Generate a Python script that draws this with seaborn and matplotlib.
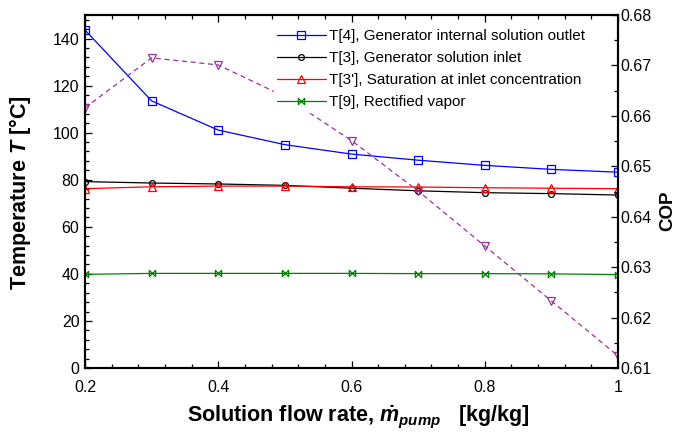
import matplotlib
matplotlib.use("Agg")
import matplotlib.pyplot as plt
from matplotlib.path import Path
from matplotlib.ticker import MultipleLocator, FixedLocator
import seaborn as sns
import pandas as pd

# ---- data ----
flow = [0.2, 0.3, 0.4, 0.5, 0.6, 0.7, 0.8, 0.9, 1.0]
T4 = [143.6, 113.5, 101.1, 94.9, 90.9, 88.3, 86.1, 84.4, 83.2]
T3 = [79.2, 78.6, 78.2, 77.6, 76.4, 75.3, 74.5, 74.1, 73.5]
T3p = [76.2, 77.0, 77.3, 77.3, 77.0, 76.9, 76.6, 76.4, 76.2]
T9 = [39.8, 40.2, 40.2, 40.2, 40.2, 40.1, 40.1, 40.0, 39.7]
COP = [0.6616, 0.6715, 0.6701, 0.6638, 0.6551, 0.6451, 0.6342, 0.6233, 0.6124]

labels = ["T[4], Generator internal solution outlet",
          "T[3], Generator solution inlet",
          "T[3'], Saturation at inlet concentration",
          "T[9], Rectified vapor"]
x_ticks = [0.2, 0.4, 0.6, 0.8, 1.0]
x_ticklabels = ["0.2", "0.4", "0.6", "0.8", "1"]
cop_ticks = [0.61, 0.62, 0.63, 0.64, 0.65, 0.66, 0.67, 0.68]

sns.set_style("ticks")
plt.rcParams["font.family"] = ["Liberation Sans", "DejaVu Sans"]
plt.rcParams["mathtext.fontset"] = "custom"
plt.rcParams["mathtext.it"] = "Liberation Sans:bold:italic"
plt.rcParams["mathtext.rm"] = "Liberation Sans:bold"
plt.rcParams["mathtext.bf"] = "Liberation Sans:bold"
for k in ("text.color", "axes.labelcolor", "xtick.color", "ytick.color"):
    plt.rcParams[k] = "black"

bowtie = Path([(-1, -1), (-1, 1), (1, -1), (1, 1), (-1, -1)],
              [Path.MOVETO, Path.LINETO, Path.LINETO, Path.LINETO, Path.CLOSEPOLY])

W, H = 676, 433
fig = plt.figure(figsize=(W / 100, H / 100), dpi=100)
L, R, T, B = 85, 618, 15, 368
ax = fig.add_axes([L / W, 1 - B / H, (R - L) / W, (B - T) / H])
ax2 = ax.twinx()

df = pd.DataFrame({"x": flow, "T4": T4, "T3": T3, "T3p": T3p, "T9": T9, "COP": COP})

purple = "#993399"
sns.lineplot(data=df, x="x", y="COP", ax=ax2, color=purple, lw=0.9,
             linestyle=(0, (4, 3)), marker="v", markersize=6, mfc="none",
             mec=purple, mew=0.9)

specs = [("T4", "#0000ff", "s", 5.5), ("T3", "black", "o", 4.2),
         ("T3p", "#ff0000", "^", 5.5), ("T9", "#008000", bowtie, 4.5)]
for (col, c, m, ms), lab in zip(specs, labels):
    sns.lineplot(data=df, x="x", y=col, ax=ax, color=c, lw=0.9, marker=m,
                 markersize=ms, mfc="none", mec=c, mew=0.9, label=lab)

ax.get_legend().remove()
h, l = ax.get_legend_handles_labels()
leg = ax2.legend(h, l, loc="upper right",
                 bbox_to_anchor=((588 - L) / (R - L), (B - 26) / (B - T)),
                 frameon=True, fancybox=False, framealpha=1, edgecolor="white",
                 facecolor="white", fontsize=11, handlelength=3.2,
                 handletextpad=0.2, labelspacing=0.52, borderpad=0.2,
                 borderaxespad=0.0)

ax.set_xlim(0.2, 1.0)
ax.set_ylim(0, 150)
ax2.set_ylim(0.61, 0.68)
ax.xaxis.set_major_locator(FixedLocator(x_ticks))
ax.set_xticklabels(x_ticklabels)
ax.xaxis.set_minor_locator(MultipleLocator(0.04))
ax.yaxis.set_major_locator(MultipleLocator(20))
ax.yaxis.set_minor_locator(MultipleLocator(4))
ax2.yaxis.set_major_locator(FixedLocator(cop_ticks))
ax2.set_yticklabels([f"{v:.2f}" for v in cop_ticks])
ax2.yaxis.set_minor_locator(MultipleLocator(0.005))

ax.tick_params(axis="both", which="both", direction="in", labelsize=11.5,
               top=True, right=False, width=0.9)
ax.tick_params(which="major", length=5)
ax.tick_params(which="minor", length=3)
ax.tick_params(axis="x", pad=9)
ax.tick_params(axis="y", pad=4)
ax2.tick_params(axis="y", which="both", direction="in", labelsize=11.5, width=0.9, pad=2)
ax2.tick_params(which="major", length=5)
ax2.tick_params(which="minor", length=3)

for a in (ax, ax2):
    for s in a.spines.values():
        s.set_linewidth(1.5)
        s.set_color("black")

ax.set_xlabel(r"Solution flow rate, $\dot{m}_{pump}$   [kg/kg]",
              fontsize=15.5, fontweight="bold")
ax.xaxis.set_label_coords(0.5 + 7 / (R - L), -(421 - B) / (B - T))
ax.xaxis.label.set_va("baseline")
ax.set_ylabel(r"Temperature $T$ [°C]", fontsize=15.5, fontweight="bold")
ax.yaxis.set_label_coords(-(L - 33) / (R - L), (B - 193) / (B - T))
ax2.set_ylabel("COP", fontsize=13.5, fontweight="bold")
ax2.yaxis.set_label_coords((659 - L) / (R - L), (B - 211) / (B - T))

fig.savefig("out.png", dpi=100)
